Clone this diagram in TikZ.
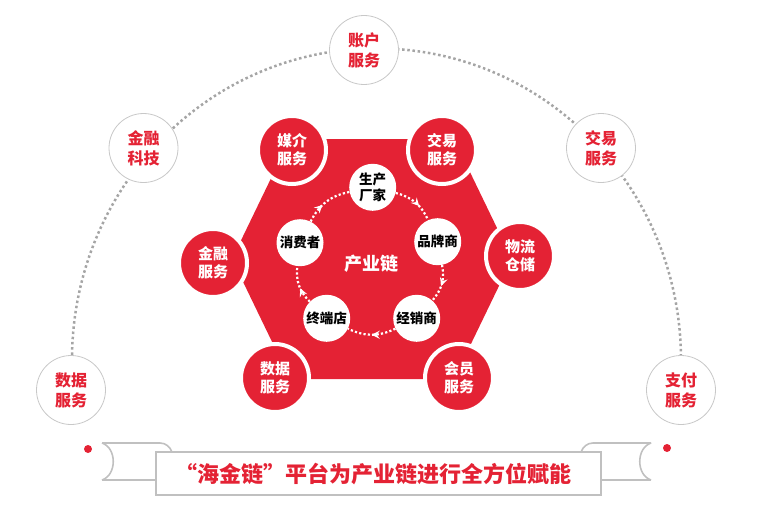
\documentclass[tikz,border=0pt]{standalone}
\usepackage{fontspec}
\setmainfont{Noto Sans CJK SC}
\usetikzlibrary{decorations.markings,arrows.meta}
\definecolor{hjred}{RGB}{228,34,52}
\definecolor{arcgray}{RGB}{165,165,165}
\definecolor{ringgray}{RGB}{200,200,200}
\definecolor{boxgray}{RGB}{192,192,192}
\begin{document}
\begin{tikzpicture}[x=1pt,y=-1pt,
  outerc/.style={circle, draw=ringgray, line width=0.8pt, fill=white, minimum size=69pt, inner sep=0pt,
    text=hjred, font=\bfseries\fontsize{16}{20}\selectfont, align=center},
  redc/.style={circle, fill=hjred, draw=white, line width=4pt, minimum size=68pt, inner sep=0pt,
    text=white, font=\bfseries\fontsize{15}{18}\selectfont, align=center},
  chainc/.style={circle, fill=white, minimum size=47pt, inner sep=0pt,
    text=black, font=\bfseries\fontsize{13.5}{15.5}\selectfont, align=center},
  flow/.style={white, line width=2.2pt, dash pattern=on 2.2pt off 2.2pt,
    decoration={markings, mark=at position #1 with {\arrow{Stealth[length=8pt,width=8pt,inset=3pt]}}},
    postaction={decorate, solid}},
  bigarc/.style={arcgray, line width=2.5pt, dash pattern=on 2.5pt off 2.7pt},
  scroll/.style={boxgray, line width=1.6pt},
]
\useasboundingbox (0,0) rectangle (765,519);

% outer dotted arc
\coordinate (ec) at (376.5,360);
\draw[bigarc] (ec) ++(-304.5,0) arc[start angle=180, end angle=360, x radius=304.5, y radius=311.6];

% outer white circles
\node[outerc] (zh) at (364,50) {账户\\服务};
\node[outerc] (jk) at (143.5,148) {金融\\科技};
\node[outerc] (jy) at (601,148) {交易\\服务};
\node[outerc] (sj) at (71,390) {数据\\服务};
\node[outerc] (zf) at (681,390) {支付\\服务};

% hexagon
\fill[hjred] (290,139) -- (454,139) -- (512,259) -- (454,379) -- (290,379) -- (232,259) -- cycle;

% red service circles
\node[redc] (mj) at (292,150) {媒介\\服务};
\node[redc] (jyr) at (442,150) {交易\\服务};
\node[redc] (wl) at (520,256) {物流\\仓储};
\node[redc] (hy) at (459,378) {会员\\服务};
\node[redc] (sjr) at (275,378) {数据\\服务};
\node[redc] (jr) at (213,263) {金融\\服务};

% chain circles
\node[chainc] (sc) at (372.7,187.3) {生产\\厂家};
\node[chainc] (pp) at (437.7,241.7) {品牌商};
\node[chainc] (jx) at (416.7,318.3) {经销商};
\node[chainc] (zd) at (326.7,318.3) {终端店};
\node[chainc] (xf) at (300,242.7) {消费者};
\node[text=white, font=\bfseries\fontsize{18}{20}\selectfont] (cyl) at (371.7,263.3) {产业链};

% chain arrows
\draw[flow=0.62] (sc) to[bend left=26] (pp);
\draw[flow=0.55] (pp) to[bend left=26] (jx);
\draw[flow=0.5] (jx) to[bend left=26] (zd);
\draw[flow=0.42] (zd) to[bend left=26] (xf);
\draw[flow=0.4] (xf) to[bend left=26] (sc);

% banner scrolls
\draw[scroll] (102,443) -- (160,443) .. controls (166,443) and (170,447) .. (172,452);
\draw[scroll] (102,480) -- (156,480);
\draw[scroll] (102,443) .. controls (117,448) and (117,475) .. (102,480);
\draw[scroll] (651,443) -- (593,443) .. controls (587,443) and (583,447) .. (581,452);
\draw[scroll] (651,480) -- (601,480);
\draw[scroll] (651,443) .. controls (636,448) and (636,475) .. (651,480);
\fill[hjred] (88,449) circle[radius=4pt];
\fill[hjred] (667,448) circle[radius=4pt];

% banner box and title
\node[draw=boxgray, line width=2pt, fill=white, minimum width=445pt, minimum height=43pt, inner sep=0pt] (box) at (378.5,473.5) {};
\node[text=hjred, font=\bfseries\fontsize{22}{24}\selectfont] (title) at (373.5,474) {“海金链”平台为产业链进行全方位赋能};
\end{tikzpicture}
\end{document}
